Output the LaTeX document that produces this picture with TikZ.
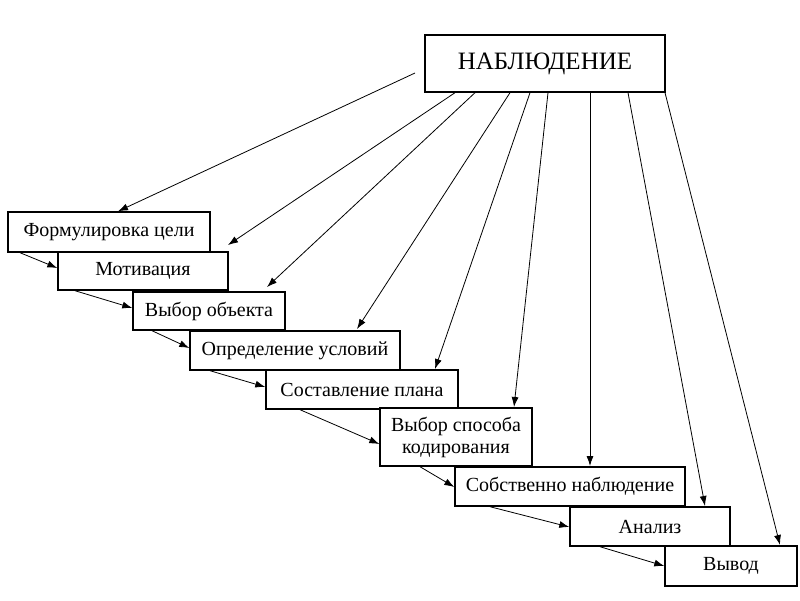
\documentclass[tikz,border=0pt]{standalone}
\usepackage{fontspec}
\setmainfont{Liberation Serif}
\usetikzlibrary{arrows.meta}
\begin{document}
\begin{tikzpicture}[x=1pt,y=-1pt,
  bx/.style={draw,line width=1.4pt,fill=white,inner sep=0pt,font=\fontsize{20}{22}\selectfont,align=center},
  ar/.style={-{Latex[length=10pt,width=7pt]},line width=0.8pt}]
\useasboundingbox (0,0) rectangle (800,600);
\node[bx,minimum width=240,minimum height=57,font=\fontsize{25}{27}\selectfont] (top) at (545,63.5) {НАБЛЮДЕНИЕ};
\node[bx,minimum width=202,minimum height=40] (b1) at (109,232) {Формулировка цели};
\node[bx,minimum width=170,minimum height=38] (b2) at (143,271) {Мотивация};
\node[bx,minimum width=152,minimum height=38] (b3) at (209,311) {Выбор объекта};
\node[bx,minimum width=210,minimum height=39] (b4) at (295,350.5) {Определение условий};
\node[bx,minimum width=192,minimum height=39] (b5) at (362,389.5) {Составление плана};
\node[bx,minimum width=152,minimum height=58] (b6) at (456,437) {Выбор способа\\кодирования};
\node[bx,minimum width=230,minimum height=39] (b7) at (570,486.5) {Собственно наблюдение};
\node[bx,minimum width=160,minimum height=39] (b8) at (650,526.5) {Анализ};
\node[bx,minimum width=132,minimum height=40] (b9) at (731,566) {Вывод};
% from top
\coordinate (t1) at (415,73);
\draw[ar] (t1) -- (b1.north west -| 118,0 |- b1.north);
\draw[ar] (top.south west -| 455,0) -- (228,245);
\draw[ar] (top.south west -| 475,0) -- (267,287);
\draw[ar] (top.south west -| 510,0) -- (357,329);
\draw[ar] (top.south west -| 530,0) -- (435,369);
\draw[ar] (top.south west -| 548,0) -- (514,407);
\draw[ar] (top.south west -| 590,0) -- (590,466);
\draw[ar] (top.south west -| 628,0) -- (705,506);
\draw[ar] (top.south west -| 665,0) -- (780,545);
% steps
\draw[ar] (b1.south west -| 20,0) -- (b2.west |- 0,268);
\draw[ar] (b2.south west -| 75,0) -- (b3.west |- 0,308);
\draw[ar] (b3.south west -| 152,0) -- (b4.west |- 0,348);
\draw[ar] (b4.south west -| 210,0) -- (b5.west |- 0,387);
\draw[ar] (b5.south west -| 300,0) -- (b6.west |- 0,444);
\draw[ar] (b6.south west -| 420,0) -- (b7.west |- 0,487);
\draw[ar] (b7.south west -| 490,0) -- (b8.west |- 0,527);
\draw[ar] (b8.south west -| 600,0) -- (b9.west |- 0,566);
\end{tikzpicture}
\end{document}
